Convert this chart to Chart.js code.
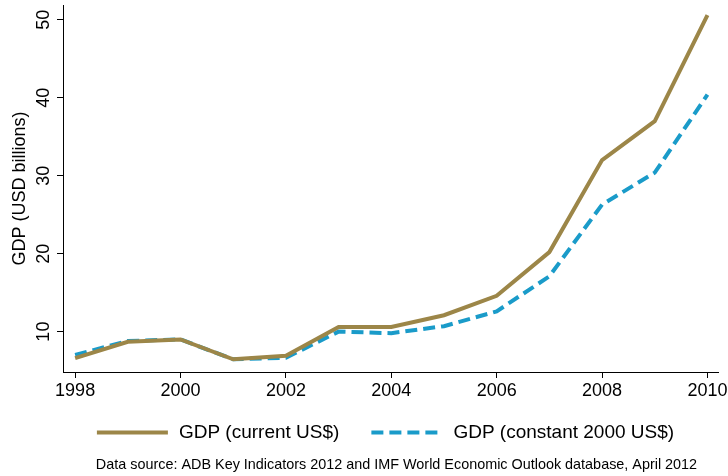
<!DOCTYPE html>
<html>
<head>
<meta charset="utf-8">
<script src="https://cdn.jsdelivr.net/npm/chart.js@4/dist/chart.umd.min.js"></script>
<style>
  html, body { margin: 0; padding: 0; background: #fff; }
  #wrap { width: 728px; height: 476px; }
</style>
</head>
<body>
<div id="wrap"><canvas id="gdpChart" width="728" height="476"></canvas></div>
<script>
const years = [1998, 1999, 2000, 2001, 2002, 2003, 2004, 2005, 2006, 2007, 2008, 2009, 2010];
const gdpCurrent = [6.6, 8.7, 9.0, 6.45, 6.9, 10.6, 10.6, 12.1, 14.6, 20.2, 32.0, 37.0, 50.6];
const gdpConstant = [7.0, 8.8, 9.0, 6.45, 6.65, 10.0, 9.8, 10.7, 12.6, 17.1, 26.3, 30.4, 40.4];
const xTicks = [1998, 2000, 2002, 2004, 2006, 2008, 2010];
const yTicks = [10, 20, 30, 40, 50];
const sourceNote = "Data source: ADB Key Indicators 2012 and IMF World Economic Outlook database, April 2012";

const FONT = "'Liberation Sans', Arial, Helvetica, sans-serif";

// legend + source note drawn under the plot (built-in legend can't do dashed line swatches)
const bottomNotes = {
  id: "bottomNotes",
  afterDraw(chart) {
    const c = chart.ctx;
    const sets = chart.data.datasets;
    const lineLen = 71, gap = 11, itemGap = 32;
    c.save();
    c.font = "19px " + FONT;
    const widths = sets.map((d) => c.measureText(d.label).width);
    let total = 0;
    widths.forEach((w, i) => { total += lineLen + gap + w + (i > 0 ? itemGap : 0); });
    let x = 385.5 - total / 2;
    const y = 432.5;
    sets.forEach((d, i) => {
      c.beginPath();
      c.strokeStyle = d.borderColor;
      c.lineWidth = d.borderWidth;
      c.setLineDash(d.borderDash || []);
      c.moveTo(x, y);
      c.lineTo(x + lineLen, y);
      c.stroke();
      c.setLineDash([]);
      c.fillStyle = "#000";
      c.textBaseline = "middle";
      c.textAlign = "left";
      c.fillText(d.label, x + lineLen + gap, y);
      x += lineLen + gap + widths[i] + itemGap;
    });
    c.font = "14.4px " + FONT;
    c.textAlign = "center";
    c.fillText(sourceNote, 396.5, 465);
    c.restore();
  },
};

const ctx = document.getElementById("gdpChart").getContext("2d");
const gdpChart = new Chart(ctx, {
  type: "line",
  data: {
    datasets: [
      {
        label: "GDP (current US$)",
        data: years.map((y, i) => ({ x: y, y: gdpCurrent[i] })),
        borderColor: "#9c8648",
        backgroundColor: "#9c8648",
        borderWidth: 4,
        pointRadius: 0,
        tension: 0,
      },
      {
        label: "GDP (constant 2000 US$)",
        data: years.map((y, i) => ({ x: y, y: gdpConstant[i] })),
        borderColor: "#1a9bc9",
        backgroundColor: "#1a9bc9",
        borderWidth: 4,
        borderDash: [12, 6],
        pointRadius: 0,
        tension: 0,
      },
    ],
  },
  options: {
    responsive: false,
    animation: false,
    layout: { padding: { left: 0, right: 10, top: 5, bottom: 74 } },
    plugins: {
      tooltip: { enabled: false },
      legend: { display: false },
    },
    scales: {
      x: {
        type: "linear",
        min: 1997.77,
        max: 2010.2,
        afterBuildTicks: (scale) => {
          scale.ticks = xTicks.map((v) => ({ value: v }));
        },
        afterFit: (scale) => {
          scale.height = 30;
          scale.paddingLeft = 0;
          scale.paddingRight = 0;
        },
        ticks: {
          color: "#000",
          font: { size: 18, family: FONT },
          padding: 2,
          maxRotation: 0,
          callback: (v) => String(v),
        },
        grid: {
          display: true,
          drawOnChartArea: false,
          drawTicks: true,
          tickLength: 6,
          color: "#000",
          lineWidth: 1,
        },
        border: { display: true, color: "#000", width: 1 },
      },
      y: {
        min: 4.82,
        max: 51.9,
        afterBuildTicks: (scale) => {
          scale.ticks = yTicks.map((v) => ({ value: v }));
        },
        afterFit: (scale) => {
          scale.width = 63;
          scale.paddingTop = 0;
          scale.paddingBottom = 0;
        },
        ticks: {
          color: "#000",
          font: { size: 18, family: FONT },
          padding: 3,
          minRotation: 90,
          maxRotation: 90,
          crossAlign: "center",
        },
        grid: {
          display: true,
          drawOnChartArea: false,
          drawTicks: true,
          tickLength: 6,
          color: "#000",
          lineWidth: 1,
        },
        border: { display: true, color: "#000", width: 1 },
        title: {
          display: true,
          text: "GDP (USD billions)",
          color: "#000",
          font: { size: 18, family: FONT },
          padding: { top: 9, bottom: 0 },
        },
      },
    },
  },
  plugins: [bottomNotes],
});
</script>
</body>
</html>
